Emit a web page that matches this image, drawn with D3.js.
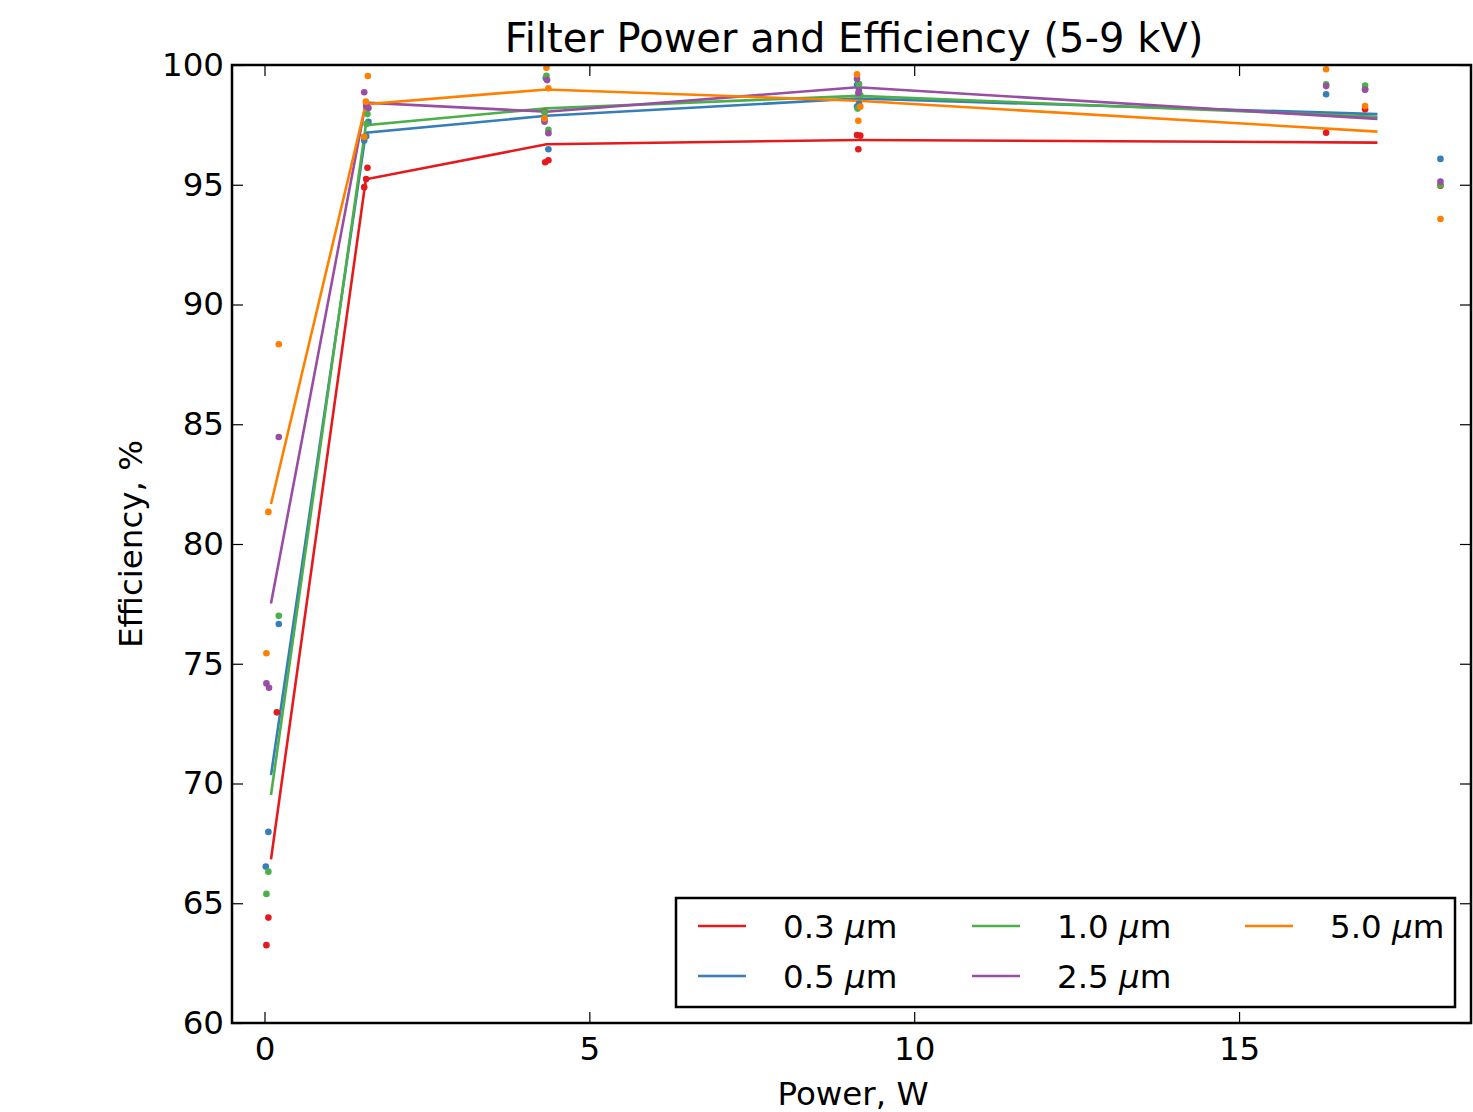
<!DOCTYPE html>
<html>
<head>
<meta charset="utf-8">
<script src="https://cdn.jsdelivr.net/npm/d3@7"></script>
<style>
  html, body { margin: 0; padding: 0; background: #fff; }
  svg { display: block; }
  text { font-family: "DejaVu Sans", sans-serif; fill: #000; }
</style>
</head>
<body>
<svg id="chart" width="1473" height="1112"></svg>
<script>
// ---- data ----
const title = "Filter Power and Efficiency (5-9 kV)";
const xLabel = "Power, W";
const yLabel = "Efficiency, %";
const xTicks = [0, 5, 10, 15];
const yTicks = [60, 65, 70, 75, 80, 85, 90, 95, 100];
const sizes = ["0.3", "0.5", "1.0", "2.5", "5.0"];
const colors = ["#e41a1c", "#377eb8", "#4daf4a", "#984ea3", "#ff7f00"];

// scatter measurements [power W, efficiency %]
const pts03 = [[0.03,63.25],[0.06,64.4],[0.19,72.97],[1.535,94.9],[1.565,95.24],[1.585,95.71],
  [4.32,95.94],[4.37,96.02],[4.31,98.05],[9.12,97.08],[9.17,97.05],[9.14,96.48],
  [16.34,97.17],[16.94,98.15],[18.1,94.96]];
const pts05 = [[0.02,66.53],[0.06,67.98],[0.22,76.66],[1.535,96.85],[1.565,97.03],[1.6,97.63],
  [4.33,99.45],[4.31,97.7],[4.37,96.48],[9.12,99.16],[9.12,98.26],[9.15,98.38],
  [16.34,98.78],[16.94,98.99],[18.1,96.08]];
const pts10 = [[0.03,65.39],[0.06,66.32],[0.22,77.0],[1.535,97.0],[1.57,97.54],[1.585,97.95],
  [4.34,99.55],[4.31,98.03],[4.37,97.29],[9.15,99.2],[9.17,98.75],[9.13,98.18],
  [16.34,99.19],[16.94,99.14],[18.1,94.99]];
const pts25 = [[0.03,74.18],[0.07,74.0],[0.22,84.47],[1.535,98.86],[1.565,98.29],[1.6,98.2],
  [4.35,99.37],[4.31,97.63],[4.37,97.15],[9.12,99.42],[9.15,98.96],[9.14,98.83],
  [16.34,99.12],[16.94,98.97],[18.1,95.13]];
const pts50 = [[0.03,75.44],[0.06,81.34],[0.22,88.34],[1.535,97.0],[1.56,98.47],[1.59,99.54],
  [4.34,99.89],[4.37,99.03],[4.31,97.77],[9.12,99.61],[9.17,98.26],[9.14,97.67],
  [16.34,99.82],[16.94,98.29],[18.1,93.57]];

// averaged lines [power W, efficiency %]
const line03 = [[0.1,66.83],[1.56,95.23],[4.34,96.69],[9.13,96.87],[17.13,96.76]];
const line05 = [[0.1,70.35],[1.56,97.17],[4.34,97.88],[9.13,98.6],[17.13,97.95]];
const line10 = [[0.1,69.52],[1.56,97.49],[4.34,98.19],[9.13,98.71],[17.13,97.84]];
const line25 = [[0.1,77.52],[1.56,98.43],[4.34,98.05],[9.13,99.07],[17.13,97.75]];
const line50 = [[0.1,81.67],[1.56,98.36],[4.34,98.98],[9.13,98.51],[17.13,97.22]];

const points = [pts03, pts05, pts10, pts25, pts50];
const lines = [line03, line05, line10, line25, line50];

// ---- layout ----
const mLeft = 232, mRight = 1471, mTop = 65, mBottom = 1023;
const svg = d3.select("#chart");

const x = d3.scaleLinear().domain([-0.5, 18.57]).range([mLeft, mRight]);
const y = d3.scaleLinear().domain([60, 100]).range([mBottom, mTop]);

svg.append("defs").append("clipPath").attr("id", "clip")
  .append("rect").attr("x", mLeft).attr("y", mTop)
  .attr("width", mRight - mLeft).attr("height", mBottom - mTop);

const plot = svg.append("g").attr("clip-path", "url(#clip)");

const lineGen = d3.line().x(d => x(d[0])).y(d => y(d[1]));
lines.forEach((ln, i) => {
  plot.append("path").datum(ln)
    .attr("d", lineGen)
    .attr("fill", "none")
    .attr("stroke", colors[i])
    .attr("stroke-width", 2.6);
});
points.forEach((ps, i) => {
  plot.selectAll(null).data(ps).enter().append("circle")
    .attr("cx", d => x(d[0])).attr("cy", d => y(d[1]))
    .attr("r", 3.3).attr("fill", colors[i]);
});

// ---- axes (ticks inward, mirrored) ----
const tickLen = 11;
const axB = d3.axisBottom(x).tickValues(xTicks).tickSizeInner(-tickLen).tickSizeOuter(0).tickPadding(14);
const axT = d3.axisTop(x).tickValues(xTicks).tickSizeInner(-tickLen).tickSizeOuter(0).tickFormat("");
const axL = d3.axisLeft(y).tickValues(yTicks).tickSizeInner(-tickLen).tickSizeOuter(0).tickPadding(8);
const axR = d3.axisRight(y).tickValues(yTicks).tickSizeInner(-tickLen).tickSizeOuter(0).tickFormat("");

function styleAxis(g) {
  g.select(".domain").remove();
  g.selectAll(".tick line").attr("stroke", "#000").attr("stroke-width", 1.2);
  g.selectAll(".tick text").style("font-family", "DejaVu Sans").style("font-size", "32.5px").attr("fill", "#000");
}
svg.append("g").attr("transform", `translate(0,${mBottom})`).call(axB).call(styleAxis);
svg.append("g").attr("transform", `translate(0,${mTop})`).call(axT).call(styleAxis);
svg.append("g").attr("transform", `translate(${mLeft},0)`).call(axL).call(styleAxis);
svg.append("g").attr("transform", `translate(${mRight},0)`).call(axR).call(styleAxis);

// frame
svg.append("rect").attr("x", mLeft).attr("y", mTop)
  .attr("width", mRight - mLeft).attr("height", mBottom - mTop)
  .attr("fill", "none").attr("stroke", "#000").attr("stroke-width", 2.5);

// ---- labels ----
svg.append("text").attr("x", 854).attr("y", 52)
  .attr("text-anchor", "middle").style("font-size", "40px").text(title);
svg.append("text").attr("x", 853).attr("y", 1105)
  .attr("text-anchor", "middle").style("font-size", "32.5px").text(xLabel);
svg.append("text").attr("transform", `translate(142,${(mTop + mBottom) / 2}) rotate(-90)`)
  .attr("text-anchor", "middle").style("font-size", "32.5px").text(yLabel);

// ---- legend ----
const lg = svg.append("g");
lg.append("rect").attr("x", 676).attr("y", 898).attr("width", 779).attr("height", 109)
  .attr("fill", "#fff").attr("stroke", "#000").attr("stroke-width", 2.5);
const colX = [698, 972, 1245];
const rowY = [926, 976];
sizes.forEach((s, i) => {
  const c = Math.floor(i / 2), r = i % 2;
  const g = lg.append("g");
  g.append("line").attr("x1", colX[c]).attr("x2", colX[c] + 48)
    .attr("y1", rowY[r]).attr("y2", rowY[r])
    .attr("stroke", colors[i]).attr("stroke-width", 2.6);
  const t = g.append("text").attr("x", colX[c] + 85).attr("y", rowY[r] + 12)
    .style("font-size", "32.5px");
  t.append("tspan").text(s + " ");
  t.append("tspan").style("font-style", "italic").text("\u03bc");
  t.append("tspan").text("m");
});
</script>
</body>
</html>
